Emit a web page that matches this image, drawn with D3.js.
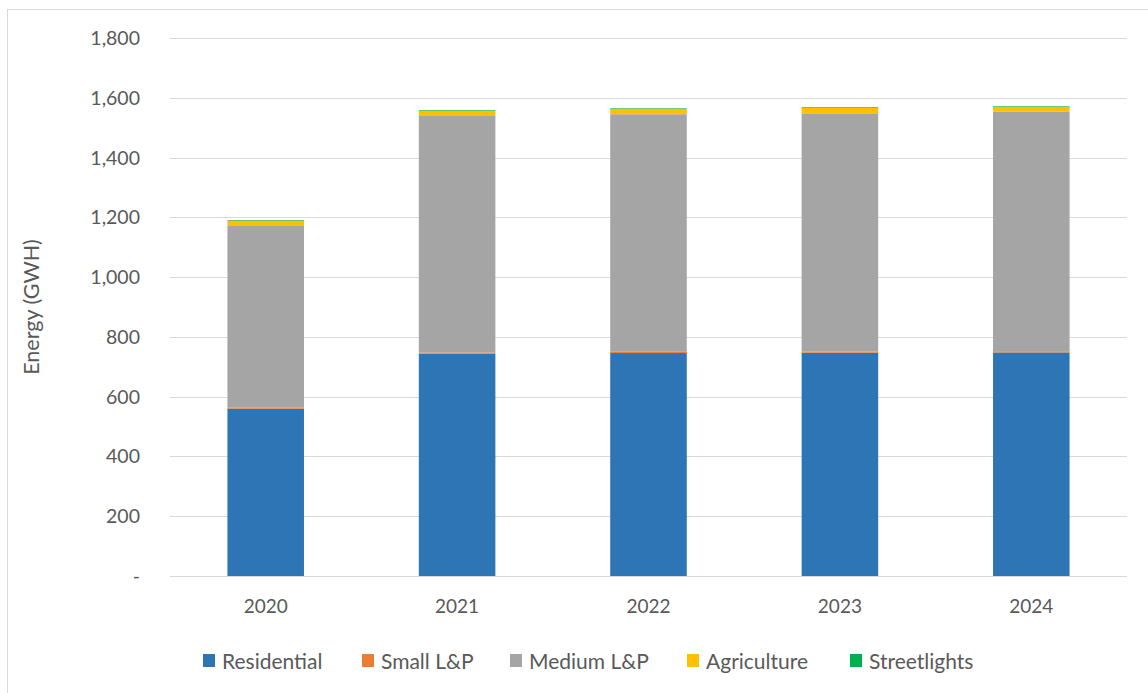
<!DOCTYPE html>
<html>
<head>
<meta charset="utf-8">
<script src="https://cdn.jsdelivr.net/npm/d3@7"></script>
<style>
  body { margin: 0; background: #fff; }
  svg text { font-family: Lato, "Open Sans", sans-serif; fill: #595959; }
</style>
</head>
<body>
<svg id="chart" width="1148" height="693"></svg>
<script>
// Data
var years = ["2020", "2021", "2022", "2023", "2024"];
var seriesNames = ["Residential", "Small L&P", "Medium L&P", "Agriculture", "Streetlights"];
var residential = [560, 744, 746, 747, 748];
var smallLP = [4, 4, 4, 4, 4];
var mediumLP = [607, 791, 795, 797, 801];
var agriculture = [18, 18, 18, 19, 17];
var streetlights = [2, 2, 2, 2, 2];
var yTicks = [0, 200, 400, 600, 800, 1000, 1200, 1400, 1600, 1800];
var colors = ["#2E75B6", "#ED7D31", "#A5A5A5", "#FFC000", "#00B050"];

var svg = d3.select("#chart");

// chart border (left + top visible)
svg.append("rect")
  .attr("x", 7.5).attr("y", 9.5)
  .attr("width", 1160).attr("height", 700)
  .attr("fill", "none")
  .attr("stroke", "#D9D9D9")
  .attr("stroke-width", 1);

var plotLeft = 170, plotRight = 1127, plotTop = 38, plotBottom = 576;

var x = d3.scaleBand().domain(years).range([plotLeft, plotRight]).paddingInner(0.6).paddingOuter(0.3);
var y = d3.scaleLinear().domain([0, 1800]).range([plotBottom, plotTop]);

// table for stacking
var rows = years.map(function(yr, i) {
  return {
    year: yr,
    "Residential": residential[i],
    "Small L&P": smallLP[i],
    "Medium L&P": mediumLP[i],
    "Agriculture": agriculture[i],
    "Streetlights": streetlights[i]
  };
});
var stacked = d3.stack().keys(seriesNames)(rows);

// gridlines
svg.append("g")
  .selectAll("line")
  .data(yTicks)
  .enter()
  .append("line")
  .attr("x1", plotLeft).attr("x2", plotRight)
  .attr("y1", function(d) { return Math.round(y(d)) + 0.5; })
  .attr("y2", function(d) { return Math.round(y(d)) + 0.5; })
  .attr("stroke", "#D9D9D9")
  .attr("stroke-width", 1);

// bars
svg.append("g")
  .selectAll("g")
  .data(stacked)
  .enter()
  .append("g")
  .attr("fill", function(d, i) { return colors[i]; })
  .selectAll("rect")
  .data(function(d) { return d; })
  .enter()
  .append("rect")
  .attr("x", function(d) { return x(d.data.year); })
  .attr("width", x.bandwidth())
  .attr("y", function(d) { return y(d[1]); })
  .attr("height", function(d) { return y(d[0]) - y(d[1]); });

// y tick labels
svg.append("g")
  .selectAll("text")
  .data(yTicks)
  .enter()
  .append("text")
  .attr("x", 140)
  .attr("y", function(d) { return y(d); })
  .attr("dy", "0.36em")
  .attr("text-anchor", "end")
  .style("font-size", "19.5px")
  .text(function(d) { return d === 0 ? "-" : d3.format(",")(d); });

// x tick labels
svg.append("g")
  .selectAll("text")
  .data(years)
  .enter()
  .append("text")
  .attr("x", function(d) { return x(d) + x.bandwidth() / 2; })
  .attr("y", 613)
  .attr("text-anchor", "middle")
  .style("font-size", "19px")
  .text(function(d) { return d; });

// y axis title
svg.append("text")
  .attr("transform", "translate(39," + ((plotTop + plotBottom) / 2) + ") rotate(-90)")
  .attr("text-anchor", "middle")
  .style("font-size", "21.5px")
  .text("Energy (GWH)");

// legend
var legendX = [203, 362, 510, 687, 850];
var legend = svg.append("g")
  .selectAll("g")
  .data(seriesNames)
  .enter()
  .append("g")
  .attr("transform", function(d, i) { return "translate(" + legendX[i] + ",661)"; });

legend.append("rect")
  .attr("x", 0).attr("y", -7)
  .attr("width", 12).attr("height", 13)
  .attr("fill", function(d, i) { return colors[i]; });

legend.append("text")
  .attr("x", 19)
  .attr("y", 0)
  .attr("dy", "0.36em")
  .style("font-size", "21px")
  .text(function(d) { return d; });
</script>
</body>
</html>
